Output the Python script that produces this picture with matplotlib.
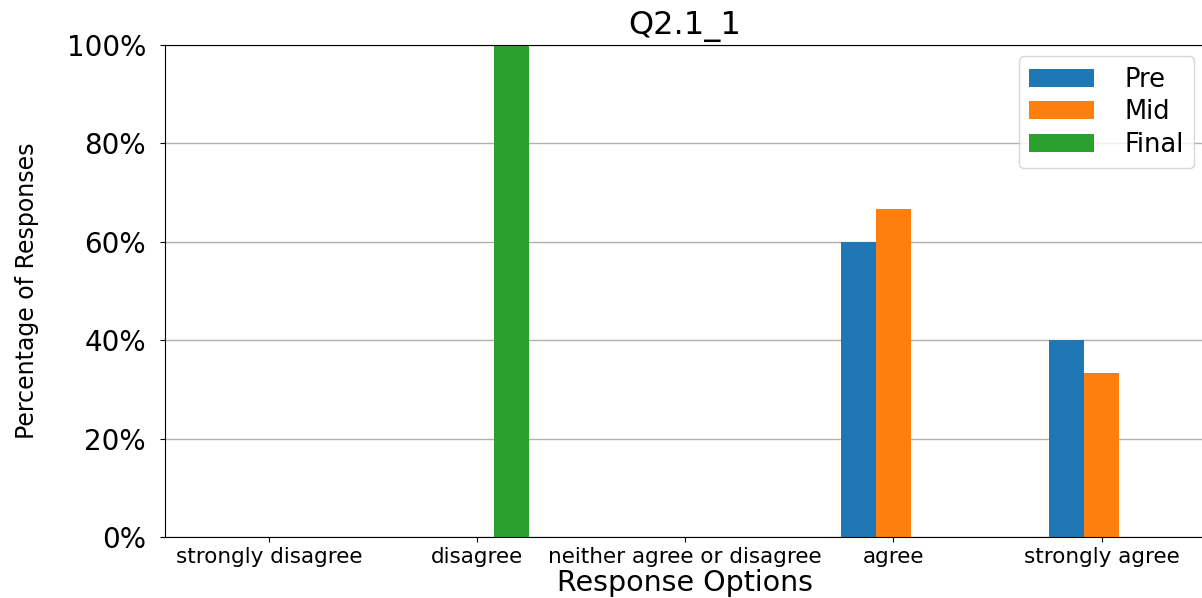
import numpy as np
from matplotlib import pyplot as plt
from matplotlib.ticker import PercentFormatter

categories = ["strongly disagree", "disagree", "neither agree or disagree",
              "agree", "strongly agree"]
pre = [0, 0, 0, 60.0, 40.0]
mid = [0, 0, 0, 66.7, 33.3]
final = [0, 100.0, 0, 0, 0]
series = [("Pre", pre), ("Mid", mid), ("Final", final)]
colors = ["#1f77b4", "#ff7f0e", "#2ca02c"]

if __name__ == "__main__":
    fig = plt.figure(figsize=(12.02, 5.98), dpi=100)
    ax = fig.add_axes([0.137, 0.102, 0.866, 0.823])

    x = np.arange(len(categories))
    width = 0.168
    for i, (name, vals) in enumerate(series):
        ax.bar(x + (i - 1) * width, vals, width, label=name, color=colors[i])

    ax.set_xlim(-0.5, len(categories) - 0.5)
    ax.set_ylim(0, 100)
    ax.set_yticks(np.arange(0, 101, 20))
    ax.yaxis.set_major_formatter(PercentFormatter(decimals=0))
    ax.set_xticks(x)
    ax.set_xticklabels(categories, fontsize=15.5)
    ax.tick_params(axis="y", labelsize=20, pad=10)
    ax.tick_params(axis="x", pad=4)
    ax.set_axisbelow(True)
    ax.grid(axis="y", color="#b0b0b0", linewidth=1)

    ax.set_title("Q2.1_1", fontsize=23, pad=8)
    ax.set_xlabel("Response Options", fontsize=20.5, labelpad=1)
    ax.set_ylabel("Percentage of Responses", fontsize=17, labelpad=20)
    ax.legend(loc="upper right", fontsize=18.5, handlelength=2.5,
              handletextpad=1.2, labelspacing=0.25, borderaxespad=0.45)

    fig.savefig("out.png", dpi=100)
